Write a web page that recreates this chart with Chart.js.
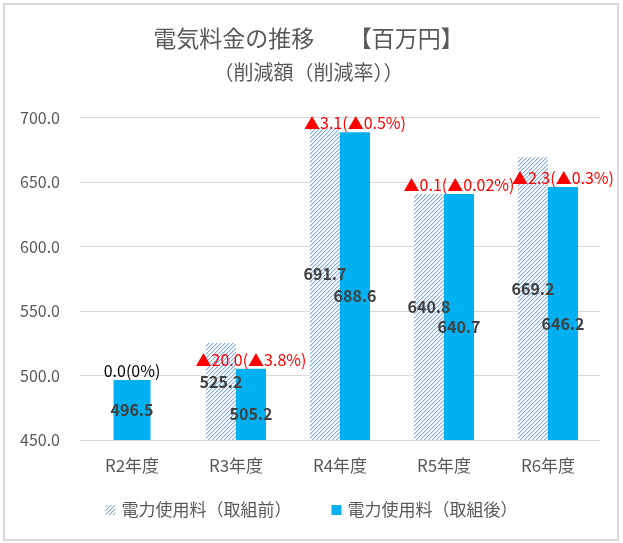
<!DOCTYPE html>
<html>
<head>
<meta charset="utf-8">
<script src="https://cdn.jsdelivr.net/npm/chart.js@4.4.1/dist/chart.umd.min.js"></script>
<style>
  html, body { margin: 0; padding: 0; background: #fff; }
  #wrap { position: relative; width: 623px; height: 543px; }
</style>
</head>
<body>
<div id="wrap"><canvas id="chart" width="623" height="543"></canvas></div>
<script>
// 電気料金の推移 — before / after bars with reduction labels on top
var categories = ["R2年度", "R3年度", "R4年度", "R5年度", "R6年度"];
var beforeValues = [null, 525.2, 691.7, 640.8, 669.2];
var afterValues = [496.5, 505.2, 688.6, 640.7, 646.2];
var diffLabels = ["0.0(0%)", "▲20.0(▲3.8%)", "▲3.1(▲0.5%)", "▲0.1(▲0.02%)", "▲2.3(▲0.3%)"];
var diffColors = ["#000000", "#FF0000", "#FF0000", "#FF0000", "#FF0000"];
var yMin = 450, yMax = 700, yStep = 50;

(function () {
  var FONT = "'Noto Sans CJK JP', 'Noto Sans', sans-serif";
  var grey = "#595959";
  Chart.defaults.font.family = FONT;
  Chart.defaults.color = grey;

  // wide upward diagonal hatch (Excel pattern fill), drawn pixel by pixel
  function hatch() {
    var c = document.createElement("canvas");
    c.width = 4; c.height = 4;
    var x = c.getContext("2d");
    x.fillStyle = "#ffffff";
    x.fillRect(0, 0, 4, 4);
    for (var r = 0; r < 4; r++) {
      x.fillStyle = "#7FAAE0";
      x.fillRect(3 - r, r, 1, 1);
      x.fillStyle = "#CFE0F5";
      x.fillRect((4 - r) % 4, r, 1, 1);
    }
    return x.createPattern(c, "repeat");
  }

  var frame = {
    id: "frame",
    beforeDraw: function (chart) {
      var ctx = chart.ctx;
      ctx.save();
      ctx.fillStyle = "#fff";
      ctx.fillRect(0, 0, chart.width, chart.height);
      ctx.strokeStyle = "#D9D9D9";
      ctx.lineWidth = 2;
      ctx.strokeRect(4, 4, 614, 536);
      ctx.restore();
    },
  };

  // legend drawn by hand: Excel leaves a wide gap between the two entries
  var legendRow = {
    id: "legendRow",
    afterDraw: function (chart) {
      var ctx = chart.ctx;
      var sets = chart.data.datasets;
      var box = 10, gap = 6, between = 40, y = 510;
      ctx.save();
      ctx.font = "17px " + FONT;
      ctx.textBaseline = "middle";
      ctx.textAlign = "left";
      var widths = sets.map(function (d) { return ctx.measureText(d.label).width; });
      var total = widths.reduce(function (s, w) { return s + box + gap + w; }, 0) + between * (sets.length - 1);
      var x = chart.width / 2 - total / 2;
      sets.forEach(function (d, i) {
        ctx.fillStyle = d.backgroundColor;
        ctx.fillRect(x, y - box / 2, box, box);
        ctx.fillStyle = grey;
        ctx.fillText(d.label, x + box + gap, y);
        x += box + gap + widths[i] + between;
      });
      ctx.restore();
    },
  };

  var labels = {
    id: "barLabels",
    afterDatasetsDraw: function (chart) {
      var ctx = chart.ctx;
      var bottom = chart.chartArea.bottom;
      var mb = chart.getDatasetMeta(0).data;
      var ma = chart.getDatasetMeta(1).data;
      ctx.save();
      ctx.textAlign = "center";
      ctx.textBaseline = "middle";
      ctx.font = "bold 16px " + FONT;
      ctx.fillStyle = "#404040";
      categories.forEach(function (_, i) {
        var a = ma[i];
        var ya = (a.y + bottom) / 2;
        if (beforeValues[i] != null) {
          var b = mb[i];
          var yb = (b.y + bottom) / 2;
          if (Math.abs(yb - ya) < 20) { yb -= 10; ya += 10; }
          ctx.fillText(beforeValues[i].toFixed(1), b.x, yb);
        }
        ctx.fillText(afterValues[i].toFixed(1), a.x, ya);
      });
      ctx.font = "16px " + FONT;
      ctx.textBaseline = "bottom";
      categories.forEach(function (_, i) {
        var a = ma[i];
        ctx.fillStyle = diffColors[i];
        ctx.fillText(diffLabels[i], a.x, a.y - 1);
      });
      ctx.restore();
    },
  };

  new Chart(document.getElementById("chart"), {
    type: "bar",
    data: {
      labels: categories,
      datasets: [
        {
          label: "電力使用料（取組前）",
          data: beforeValues,
          backgroundColor: hatch(),
          borderWidth: 0,
        },
        {
          label: "電力使用料（取組後）",
          data: afterValues,
          backgroundColor: "#00B0F0",
          borderWidth: 0,
        },
      ],
    },
    options: {
      responsive: false,
      animation: false,
      skipNull: true,
      categoryPercentage: 0.577,
      barPercentage: 1,
      maxBarThickness: 37,
      layout: { padding: { left: 17, right: 23, top: 0, bottom: 52.6 } },
      plugins: {
        tooltip: { enabled: false },
        legend: { display: false },
        title: {
          display: true,
          text: "電気料金の推移　　【百万円】",
          color: grey,
          font: { size: 23, weight: "normal" },
          padding: { top: 24, bottom: 9 },
        },
        subtitle: {
          display: true,
          text: "（削減額（削減率））",
          color: grey,
          font: { size: 20 },
          padding: { top: 0, bottom: 33 },
        },
      },
      scales: {
        x: {
          grid: { display: false, drawTicks: false },
          border: { display: false },
          ticks: { color: grey, font: { size: 17 }, padding: 15 },
        },
        y: {
          min: yMin,
          max: yMax,
          grid: { color: "#D9D9D9", drawTicks: false },
          border: { display: false },
          ticks: {
            stepSize: yStep,
            color: grey,
            font: { size: 16 },
            padding: 20,
            callback: function (v) { return Number(v).toFixed(1); },
          },
          afterFit: function (s) { s.width = 63; },
        },
      },
    },
    plugins: [frame, labels, legendRow],
  });
})();
</script>
</body>
</html>
